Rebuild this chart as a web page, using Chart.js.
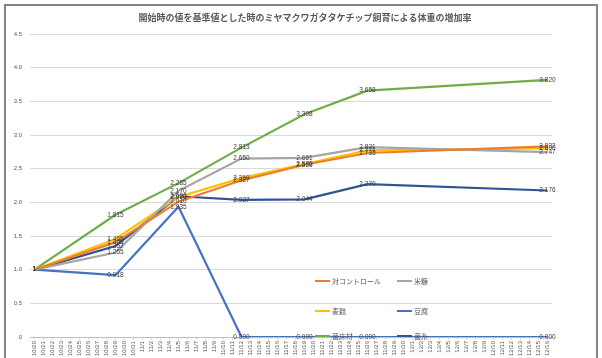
<!DOCTYPE html>
<html lang="ja">
<head>
  <meta charset="UTF-8">
  <title>体重の増加率</title>
  <script src="https://cdn.jsdelivr.net/npm/chart.js"></script>
  <style>
    html, body { margin: 0; padding: 0; background: #fff; overflow: hidden; }
    #frame {
      position: absolute; left: 4px; top: 4px;
      width: 590px; height: 380px;
      border: 2px solid #858585;
    }
  </style>
</head>
<body>
  <div id="frame">
    <canvas id="weightChart" width="590" height="380"></canvas>
  </div>
  <script>
    const chartTitle = '開始時の値を基準値とした時のミヤマクワガタタケチップ飼育による体重の増加率';

    // every day on the axis
    const days = [
      '10/20','10/21','10/22','10/23','10/24','10/25','10/26','10/27','10/28','10/29','10/30','10/31',
      '11/1','11/2','11/3','11/4','11/5','11/6','11/7','11/8','11/9','11/10','11/11','11/12','11/13',
      '11/14','11/15','11/16','11/17','11/18','11/19','11/20','11/21','11/22','11/23','11/24','11/25',
      '11/26','11/27','11/28','11/29','11/30','12/1','12/2','12/3','12/4','12/5','12/6','12/7','12/8',
      '12/9','12/10','12/11','12/12','12/13','12/14','12/15','12/16'
    ];

    // measuring days
    const measureDays = ['10/20', '10/29', '11/5', '11/12', '11/19', '11/26', '12/16'];

    const control  = [1, 1.409, 2.010, 2.327, 2.558, 2.733, 2.832];
    const komenuka = [1, 1.255, 2.170, 2.650, 2.661, 2.821, 2.747];
    const fusuma   = [1, 1.455, 2.080, 2.360, 2.570, 2.771, 2.800];
    const tofu     = [1, 0.918, 1.935, 0.000, 0.000, 0.000, 0.000];
    const kinsho   = [1, 1.815, 2.285, 2.813, 3.308, 3.658, 3.820];
    const kinshi   = [1, 1.352, 2.090, 2.037, 2.044, 2.270, 2.176];

    const seriesNames = ['対コントロール', '米糠', '麦麩', '豆腐', '菌床材', '菌糸'];
    const seriesValues = [control, komenuka, fusuma, tofu, kinsho, kinshi];
    const seriesColors = ['#ED7D31', '#A5A5A5', '#FFC000', '#4472C4', '#70AD47', '#2E5496'];

    const yTicks = [0, 0.5, 1, 1.5, 2, 2.5, 3, 3.5, 4, 4.5];

    const datasets = seriesNames.map((name, i) => ({
      label: name,
      data: measureDays.map((d, j) => ({ x: d, y: seriesValues[i][j] })),
      borderColor: seriesColors[i],
      backgroundColor: seriesColors[i],
      borderWidth: 2.2,
      pointRadius: 0,
      tension: 0,
      spanGaps: true
    }));

    // title drawn by hand so it sits where the original one does
    const titlePlugin = {
      id: 'titleText',
      afterDraw(chart) {
        const ctx = chart.ctx;
        ctx.save();
        ctx.font = 'bold 9px "Noto Sans CJK JP"';
        ctx.fillStyle = '#595959';
        ctx.textAlign = 'center';
        ctx.textBaseline = 'middle';
        ctx.fillText(chartTitle, 299, 12);
        ctx.restore();
      }
    };

    // value labels on each point
    const valueLabels = {
      id: 'valueLabels',
      afterDatasetsDraw(chart) {
        const ctx = chart.ctx;
        ctx.save();
        ctx.font = '6.5px "Liberation Sans"';
        ctx.fillStyle = '#404040';
        ctx.textAlign = 'center';
        ctx.textBaseline = 'middle';
        chart.data.datasets.forEach((ds, i) => {
          const meta = chart.getDatasetMeta(i);
          meta.data.forEach((pt, j) => {
            const v = ds.data[j].y;
            const txt = j === 0 ? '1' : v.toFixed(3);
            ctx.fillText(txt, pt.x, pt.y);
          });
        });
        ctx.restore();
      }
    };

    // legend inside the plot, two columns
    const innerLegend = {
      id: 'innerLegend',
      afterDraw(chart) {
        const ctx = chart.ctx;
        const colX = [309, 391];
        const rowY = [275, 305, 330];
        ctx.save();
        ctx.font = '7px "Noto Sans CJK JP"';
        ctx.textBaseline = 'middle';
        chart.data.datasets.forEach((ds, i) => {
          const x = colX[i % 2];
          const y = rowY[Math.floor(i / 2)];
          ctx.strokeStyle = ds.borderColor;
          ctx.lineWidth = 2;
          ctx.beginPath();
          ctx.moveTo(x, y);
          ctx.lineTo(x + 15, y);
          ctx.stroke();
          ctx.fillStyle = '#595959';
          ctx.fillText(ds.label, x + 17, y);
        });
        ctx.restore();
      }
    };

    const ctx = document.getElementById('weightChart').getContext('2d');
    new Chart(ctx, {
      type: 'line',
      data: { labels: days, datasets: datasets },
      options: {
        responsive: false,
        animation: false,
        layout: { padding: { top: 28, right: 44, left: 0, bottom: 0 } },
        plugins: {
          legend: { display: false },
          title: { display: false },
          tooltip: { enabled: false }
        },
        scales: {
          x: {
            type: 'category',
            offset: true,
            afterFit(axis) { axis.height = 49; },
            grid: {
              drawOnChartArea: false,
              drawTicks: true,
              tickLength: 3,
              color: '#d9d9d9'
            },
            border: { color: '#bfbfbf' },
            ticks: {
              autoSkip: false,
              maxRotation: 90,
              minRotation: 90,
              padding: 1,
              color: '#595959',
              font: { size: 6, family: 'Liberation Sans' }
            }
          },
          y: {
            min: 0,
            max: 4.5,
            afterFit(axis) { axis.width = 24; },
            afterBuildTicks(axis) { axis.ticks = yTicks.map(v => ({ value: v })); },
            grid: { color: '#d9d9d9', drawTicks: false },
            border: { display: false },
            ticks: {
              padding: 8,
              color: '#595959',
              font: { size: 6, family: 'Liberation Sans' }
            }
          }
        }
      },
      plugins: [titlePlugin, valueLabels, innerLegend]
    });
  </script>
</body>
</html>
